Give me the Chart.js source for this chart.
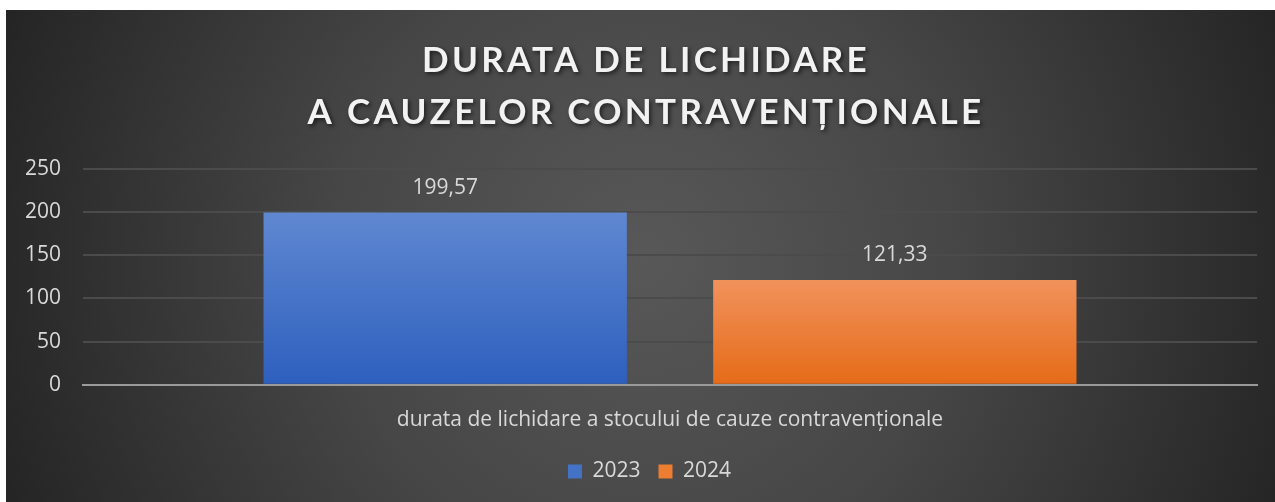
<!DOCTYPE html>
<html>
<head>
<meta charset="utf-8">
<script src="https://cdn.jsdelivr.net/npm/chart.js@4.4.1/dist/chart.umd.min.js"></script>
<style>
html,body{margin:0;padding:0;background:#fff;}
#wrap{width:1275px;height:502px;}
</style>
</head>
<body>
<div id="wrap"><canvas id="c" width="1275" height="502"></canvas></div>
<script>
const titleLines = ['DURATA DE LICHIDARE', 'A CAUZELOR CONTRAVENȚIONALE'];
const categories = ['durata de lichidare a stocului de cauze contravenționale'];
const seriesNames = ['2023', '2024'];
const values2023 = [199.57];
const values2024 = [121.33];
const yMax = 250;
const yStep = 50;

const FONT = '"Open Sans", Lato, sans-serif';
const TFONT = 'Lato, "Open Sans", sans-serif';
const TXT = '#d9d9d9';
const FS = 21;

const bgPlugin = {
  id: 'bg',
  afterLayout(chart) {
    if (chart.legend) {
      chart.legend.left += 18;
      chart.legend.right += 18;
    }
  },
  beforeDraw(chart) {
    const c = chart.ctx;
    c.save();
    c.fillStyle = '#ffffff';
    c.fillRect(0, 0, chart.width, chart.height);
    const g = c.createRadialGradient(645, 260, 0, 645, 260, 700);
    g.addColorStop(0, '#585858');
    g.addColorStop(0.45, '#464646');
    g.addColorStop(1, '#232323');
    c.fillStyle = g;
    c.fillRect(6, 10, chart.width - 6, chart.height - 10);
    c.restore();
  },
  afterDraw(chart) {
    const c = chart.ctx;
    c.save();
    c.font = 'bold 35px ' + TFONT;
    c.letterSpacing = '3.3px';
    c.textAlign = 'center';
    c.textBaseline = 'middle';
    c.fillStyle = '#f2f2f2';
    c.shadowColor = 'rgba(0,0,0,0.6)';
    c.shadowOffsetX = 2;
    c.shadowOffsetY = 2;
    c.shadowBlur = 4;
    c.fillText(titleLines[0], 646, 61);
    c.fillText(titleLines[1], 646, 113);
    c.restore();

    // data labels
    c.save();
    c.font = FS + 'px ' + FONT;
    c.fillStyle = TXT;
    c.textAlign = 'center';
    c.textBaseline = 'middle';
    chart.data.datasets.forEach((ds, i) => {
      const meta = chart.getDatasetMeta(i);
      meta.data.forEach((el, j) => {
        const v = ds.data[j];
        c.fillText(v.toFixed(2).replace('.', ','), el.x, el.y - 25);
      });
    });
    c.restore();
  }
};

function barGrad(top, bottom) {
  return (ctx) => {
    const chart = ctx.chart;
    if (!chart.chartArea || ctx.parsed === undefined) return bottom;
    const ys = chart.scales.y;
    const yTop = ys.getPixelForValue(ctx.parsed.y);
    const yBot = ys.getPixelForValue(0);
    const g = chart.ctx.createLinearGradient(0, yTop, 0, yBot);
    g.addColorStop(0, top);
    g.addColorStop(1, bottom);
    return g;
  };
}

const solid = ['#4472c4', '#ed7d31'];

new Chart(document.getElementById('c'), {
  type: 'bar',
  data: {
    labels: categories,
    datasets: [
      { label: seriesNames[0], data: values2023, backgroundColor: barGrad('#6088d1', '#2d5fbe') },
      { label: seriesNames[1], data: values2024, backgroundColor: barGrad('#f1925c', '#e56b17') }
    ]
  },
  options: {
    responsive: false,
    animation: false,
    events: [],
    categoryPercentage: 0.766,
    barPercentage: 0.808,
    layout: { padding: { left: 6, right: 18, top: 169, bottom: 10 } },
    plugins: {
      title: { display: false },
      tooltip: { enabled: false },
      legend: {
        position: 'bottom',
        labels: {
          color: TXT,
          font: { family: FONT, size: FS },
          boxWidth: 14,
          boxHeight: 14,
          padding: 18,
          generateLabels: (chart) => chart.data.datasets.map((ds, i) => ({
            text: ds.label, fillStyle: solid[i], strokeStyle: solid[i], lineWidth: 0,
            fontColor: TXT, datasetIndex: i, hidden: false
          }))
        }
      }
    },
    scales: {
      x: {
        afterFit: (s) => { s.height -= 13; },
        grid: { display: false, drawTicks: false },
        border: { display: true, color: '#9a9a9a', width: 2 },
        ticks: { color: TXT, font: { family: FONT, size: FS }, padding: 23 }
      },
      y: {
        min: 0, max: yMax,
        afterFit: (s) => { s.width = 77; },
        grid: { color: '#4b4b4b', lineWidth: 2, drawTicks: false },
        border: { display: false },
        ticks: { stepSize: yStep, color: TXT, font: { family: FONT, size: FS }, padding: 22 }
      }
    }
  },
  plugins: [bgPlugin]
});
</script>
</body>
</html>
